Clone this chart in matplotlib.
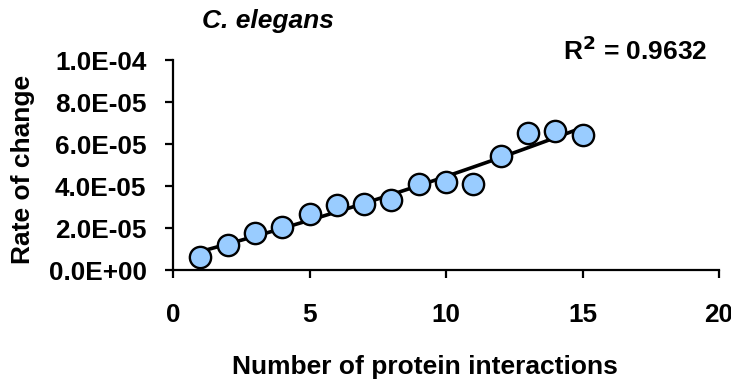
import numpy as np
import matplotlib
matplotlib.use('Agg')
import matplotlib.pyplot as plt

plt.rcParams['font.family'] = ['Liberation Sans', 'DejaVu Sans']
plt.rcParams['font.weight'] = 'bold'

interactions = [1, 2, 3, 4, 5, 6, 7, 8, 9, 10, 11, 12, 13, 14, 15]
rate = [0.63e-5, 1.19e-5, 1.75e-5, 2.06e-5, 2.65e-5, 3.10e-5, 3.13e-5, 3.33e-5,
        4.10e-5, 4.20e-5, 4.08e-5, 5.43e-5, 6.54e-5, 6.63e-5, 6.43e-5]
y_ticks = [0, 2e-5, 4e-5, 6e-5, 8e-5, 1e-4]
y_tick_labels = ['0.0E+00', '2.0E-05', '4.0E-05', '6.0E-05', '8.0E-05', '1.0E-04']
x_ticks = [0, 5, 10, 15, 20]

fig = plt.figure(figsize=(7.31, 3.84), dpi=100)
ax = fig.add_axes([173 / 731, 1 - 270 / 384, (719 - 173) / 731, 210 / 384])

# trend line (2nd order polynomial, like the Excel trendline)
coef = np.polyfit(interactions, rate, 2)
xs = np.linspace(1, 15, 100)
ax.plot(xs, np.polyval(coef, xs), color='black', lw=2.6, zorder=2)

ax.scatter(interactions, rate, s=235, facecolor='#99ccff', edgecolor='black',
           linewidth=1.7, zorder=3, clip_on=False)

ax.set_xlim(0, 20)
ax.set_ylim(0, 1e-4)
ax.set_xticks(x_ticks)
ax.set_yticks(y_ticks)
ax.set_yticklabels(y_tick_labels)
for s in ['top', 'right']:
    ax.spines[s].set_visible(False)
for s in ['left', 'bottom']:
    ax.spines[s].set_linewidth(1.6)
ax.tick_params(axis='both', direction='out', length=6, width=1.6, labelsize=18.8)
ax.tick_params(axis='x', pad=18)
ax.tick_params(axis='y', pad=13)

fig.text(425 / 731, 1 - 367 / 384, 'Number of protein interactions', ha='center',
         va='center', fontsize=19, fontweight='bold')
fig.text(23 / 731, 1 - 169 / 384, 'Rate of change', ha='center', va='center',
         rotation=90, fontsize=19, fontweight='bold')
fig.text(268 / 731, 1 - 21 / 384, 'C. elegans', ha='center', va='center',
         fontsize=19, fontweight='bold', style='italic')
fig.text(708 / 731, 1 - 51 / 384, r'R$^\mathbf{2}$ = 0.9632', ha='right', va='center',
         fontsize=19, fontweight='bold')

fig.savefig('out.png', dpi=100, facecolor='white')
